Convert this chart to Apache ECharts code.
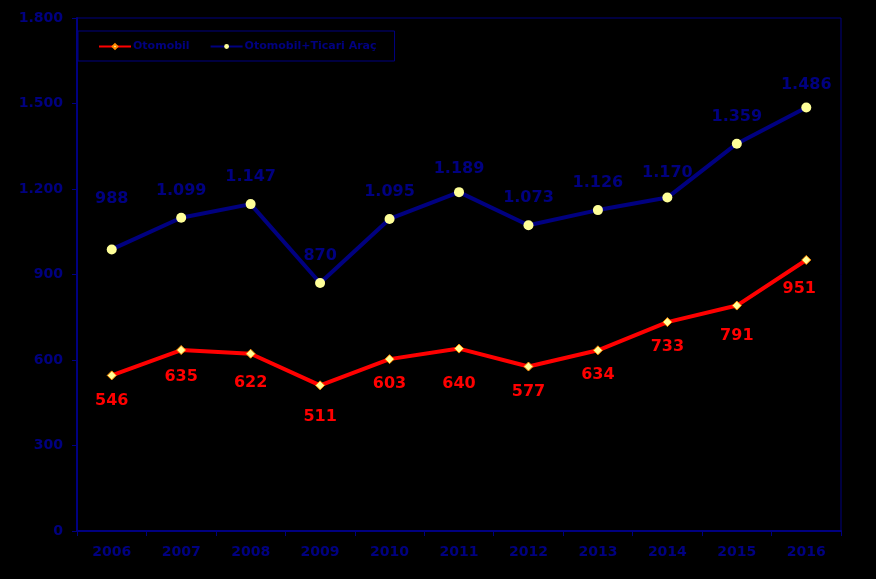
<!DOCTYPE html>
<html><head><meta charset="utf-8">
<script src="https://cdn.jsdelivr.net/npm/echarts@6/dist/echarts.min.js"></script>
<style>html,body{margin:0;padding:0;background:#000;}#c{width:876px;height:579px;}</style>
</head><body><div id="c"></div>
<script>
const years = ['2006','2007','2008','2009','2010','2011','2012','2013','2014','2015','2016'];
const otomobil = [546,635,622,511,603,640,577,634,733,791,951];
const toplam = [988,1099,1147,870,1095,1189,1073,1126,1170,1359,1486];
const yTicks = [0,300,600,900,1200,1500,1800];

const fmt = v => String(v).replace(/\B(?=(\d{3})+(?!\d))/g, '.');
const blue = '#000080';
const redLabelOffsets = {5: [0, 10], 3: [0, 6], 9: [0, 5], 2: [0, 4], 1: [0, 2], 10: [-7, 4]};
const blueLabelOffsets = {0: [0, -24], 5: [0, 4], 10: [0, 4], 8: [0, 2]};
const chart = echarts.init(document.getElementById('c'), null, {renderer:'canvas'});
chart.setOption({
  backgroundColor: '#000',
  animation: false,
  grid: {left: 77, right: 35, top: 18, bottom: 48, show: true, borderColor: blue, borderWidth: 1},
  legend: {
    left: 78, top: 31,
    padding: [10, 18, 9, 20],
    itemGap: 20,
    itemWidth: 32, itemHeight: 6,
    borderColor: blue, borderWidth: 1,
    textStyle: {color: blue, fontFamily: 'DejaVu Sans', fontWeight: 'bold', fontSize: 11, padding: [0,0,0,-3]},
    data: [
      {name: 'Otomobil'},
      {name: 'Otomobil+Ticari Araç'}
    ]
  },
  xAxis: {
    type: 'category', data: years, boundaryGap: true,
    axisLine: {lineStyle: {color: blue, width: 2}},
    axisTick: {show: true, lineStyle: {color: blue, width: 1}, length: 5},
    axisLabel: {color: blue, fontFamily: 'DejaVu Sans', fontWeight: 'bold', fontSize: 14, margin: 14}
  },
  yAxis: {
    type: 'value', min: yTicks[0], max: yTicks[yTicks.length-1], interval: 300,
    axisLine: {show: true, lineStyle: {color: blue, width: 2}},
    axisTick: {show: true, lineStyle: {color: blue}, length: 5},
    splitLine: {show: false},
    axisLabel: {color: blue, fontFamily: 'DejaVu Sans', fontWeight: 'bold', fontSize: 14, margin: 14, formatter: fmt}
  },
  series: [
    {
      name: 'Otomobil', type: 'line',
      data: otomobil.map((v, i) => ({value: v, label: {offset: redLabelOffsets[i] || [0, 0]}})),
      symbol: 'diamond', symbolSize: 9,
      lineStyle: {color: '#ff0000', width: 4},
      itemStyle: {color: '#ffff99', borderColor: '#ff8800', borderWidth: 1},
      label: {show: true, position: 'bottom', distance: 12, color: '#ff0000', fontFamily: 'DejaVu Sans', fontWeight: 'bold', fontSize: 16, formatter: p => fmt(p.value)},
      z: 3
    },
    {
      name: 'Otomobil+Ticari Araç', type: 'line',
      data: toplam.map((v, i) => ({value: v, label: {offset: blueLabelOffsets[i] || [0, 0]}})),
      symbol: 'circle', symbolSize: 10,
      lineStyle: {color: blue, width: 4},
      itemStyle: {color: '#ffff99', borderColor: '#ffff99', borderWidth: 0},
      label: {show: true, position: 'top', distance: 14, color: blue, fontFamily: 'DejaVu Sans', fontWeight: 'bold', fontSize: 16, formatter: p => fmt(p.value)},
      z: 2
    }
  ]
});
</script></body></html>
